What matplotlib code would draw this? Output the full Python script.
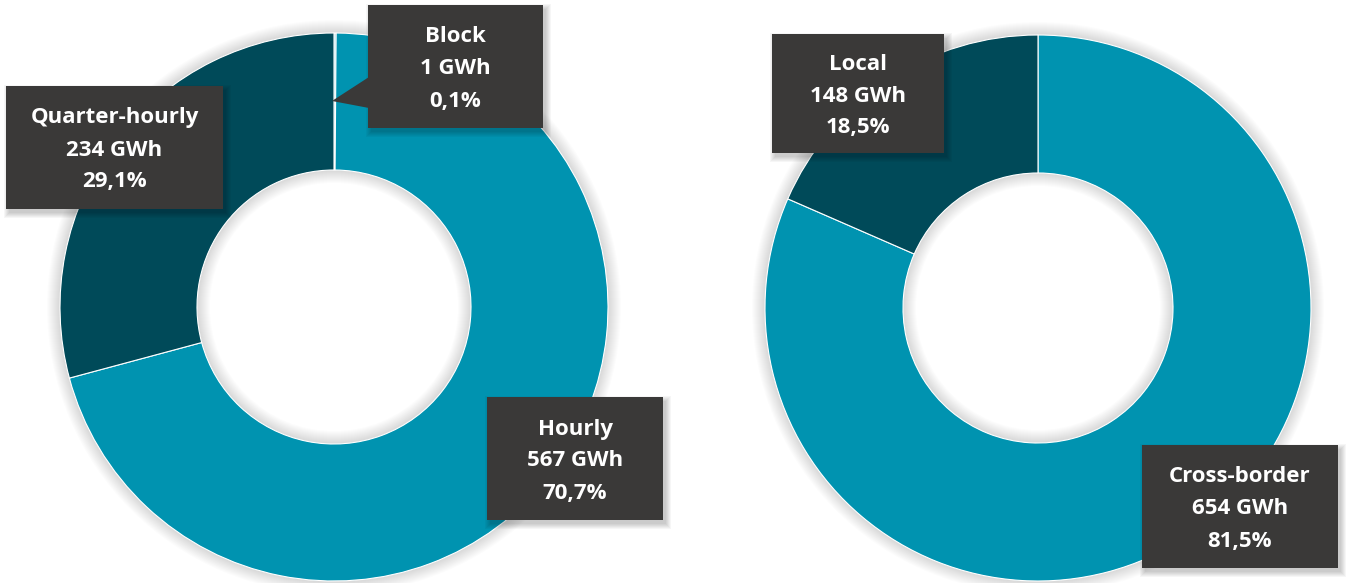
import matplotlib.pyplot as plt
from matplotlib.patches import Rectangle, Wedge, Polygon

# data
left_labels = ['Block', 'Hourly', 'Quarter-hourly']
left_gwh = [1, 567, 234]
left_pct = [0.1, 70.7, 29.1]
right_labels = ['Cross-border', 'Local']
right_gwh = [654, 148]
right_pct = [81.5, 18.5]

TEAL = '#0093b0'
DARK = '#004a59'
BOX = '#3a3938'
W, H = 1349, 583

left_colors = ['#7fc9d8', TEAL, DARK]
right_colors = [TEAL, DARK]

# label boxes in image pixels: x0, y0(top), x1, y1(bottom)
left_boxes = [(368, 5, 543, 128), (487, 397, 663, 520), (6, 86, 223, 209)]
right_boxes = [(1142, 445, 1338, 568), (772, 34, 944, 153)]


def fmt(p):
    return f'{p:.1f}'.replace('.', ',') + '%'


fig = plt.figure(figsize=(W / 100, H / 100), dpi=100)
ax = fig.add_axes([0, 0, 1, 1])


def ring_shadow(cx, cy, r_out, r_in):
    for k in range(1, 14):
        ax.add_patch(Wedge((cx, cy), r_out + k, 0, 360, width=(r_out - r_in) + 2 * k,
                           facecolor='black', edgecolor='none', alpha=0.011, zorder=1))


def donut(vals, colors, cx, cy, r_out, r_in):
    ring_shadow(cx, cy, r_out, r_in)
    wedges, _ = ax.pie(vals, colors=colors, center=(cx, cy), radius=r_out,
                       startangle=90, counterclock=False,
                       wedgeprops=dict(width=r_out - r_in, edgecolor='white', linewidth=0.8))
    for w in wedges:
        w.set_zorder(2)


def label_box(box, name, gwh, pct):
    x0, y0, x1, y1 = box
    bx, by = x0, H - y1
    bw, bh = x1 - x0, y1 - y0
    for k in range(6):
        ax.add_patch(Rectangle((bx + 3 - k, by - 4 - k), bw + 2 * k, bh + 2 * k,
                               facecolor='black', edgecolor='none', alpha=0.035, zorder=3))
    ax.add_patch(Rectangle((bx, by), bw, bh, facecolor=BOX, edgecolor='none', zorder=4))
    cx = bx + bw / 2
    cy = by + bh / 2
    for i, line in enumerate([name, f'{gwh} GWh', fmt(pct)]):
        ax.text(cx, cy + (1 - i) * 32 - 8, line, color='white', fontsize=16,
                fontweight='bold', family='Open Sans', ha='center', va='baseline', zorder=5)


donut(left_gwh, left_colors, 334, H - 307, 274, 137)
donut(right_gwh, right_colors, 1038, H - 308, 273, 135)

# callout pointer for the tiny Block slice
ax.add_patch(Polygon([(369, H - 77), (332, H - 101), (369, H - 108)],
                     closed=True, facecolor=BOX, edgecolor='none', zorder=4))

for b, n, g, p in zip(left_boxes, left_labels, left_gwh, left_pct):
    label_box(b, n, g, p)
for b, n, g, p in zip(right_boxes, right_labels, right_gwh, right_pct):
    label_box(b, n, g, p)

ax.set_xlim(0, W)
ax.set_ylim(0, H)
ax.set_aspect('auto')
ax.axis('off')

fig.savefig('out.png', dpi=100)
